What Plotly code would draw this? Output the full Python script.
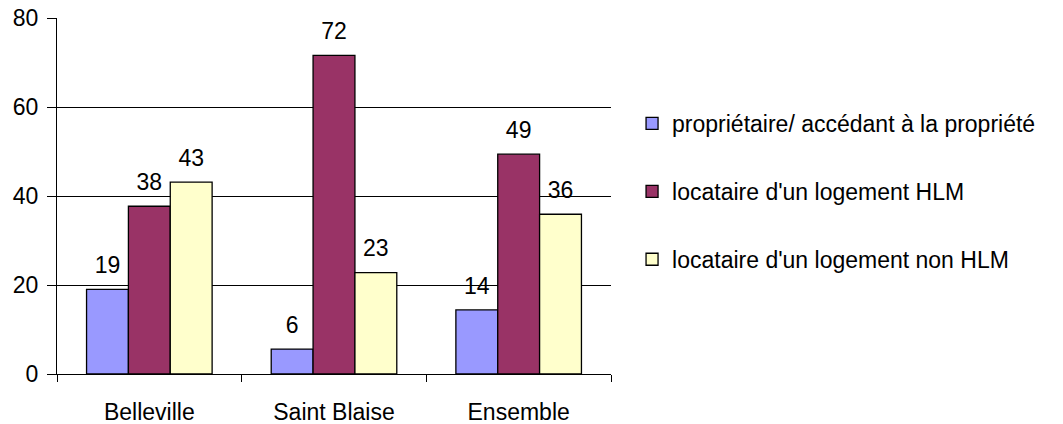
import plotly.graph_objects as go

# données
quartiers = ["Belleville", "Saint Blaise", "Ensemble"]
proprietaire = [19.0, 5.6, 14.4]
locataire_hlm = [37.7, 71.6, 49.4]
locataire_non_hlm = [43.1, 22.8, 35.9]

series = [
    ("propriétaire/ accédant à la propriété", proprietaire, "#9999FF"),
    ("locataire d'un logement HLM", locataire_hlm, "#993366"),
    ("locataire d'un logement non HLM", locataire_non_hlm, "#FFFFCC"),
]

FONT = "Liberation Sans, Arial, sans-serif"
SIZE = 23

fig = go.Figure()
for i, (name, vals, color) in enumerate(series):
    fig.add_trace(go.Bar(
        x=quartiers, y=vals, name=name, offsetgroup=str(i),
        legendgroup=str(i),
        marker=dict(color=color, line=dict(color="black", width=1.3)),
    ))
# étiquettes de valeurs (arrondies), alignées sur les barres
for i, (name, vals, color) in enumerate(series):
    fig.add_trace(go.Scatter(
        x=quartiers, y=vals, mode="markers+text", offsetgroup=str(i),
        text=[f"{v:.0f}" for v in vals], textposition="top center",
        textfont=dict(family=FONT, size=SIZE, color="black"),
        marker=dict(size=15, opacity=0), showlegend=False, hoverinfo="skip",
        cliponaxis=False,
    ))

# la page ajoute une marge de 8 px autour de la figure
fig.update_layout(
    width=1055, height=416,
    barmode="group", bargap=0.32, bargroupgap=0,
    scattermode="group", scattergap=0.32,
    plot_bgcolor="white", paper_bgcolor="white",
    font=dict(family=FONT, size=SIZE, color="black"),
    margin=dict(l=49, r=452, t=10, b=50),
    showlegend=True,
    legend=dict(
        x=1.038, y=0.764, xanchor="left", yanchor="top",
        traceorder="grouped", tracegroupgap=35,
        font=dict(family=FONT, size=SIZE, color="black"),
        bgcolor="rgba(0,0,0,0)",
    ),
)
fig.update_yaxes(
    range=[0, 80], dtick=20, showgrid=True, gridcolor="black", gridwidth=1,
    showline=True, linecolor="black", linewidth=1, zeroline=False,
    ticks="outside", ticklen=9, tickcolor="black", ticklabelstandoff=4,
    ticklabeloverflow="allow", automargin=False,
)
fig.update_xaxes(
    showline=True, linecolor="black", linewidth=1,
    ticks="outside", ticklen=7, tickcolor="black", tickson="boundaries",
    ticklabelstandoff=17, ticklabeloverflow="allow", automargin=False,
)

fig.write_html("out.html")
